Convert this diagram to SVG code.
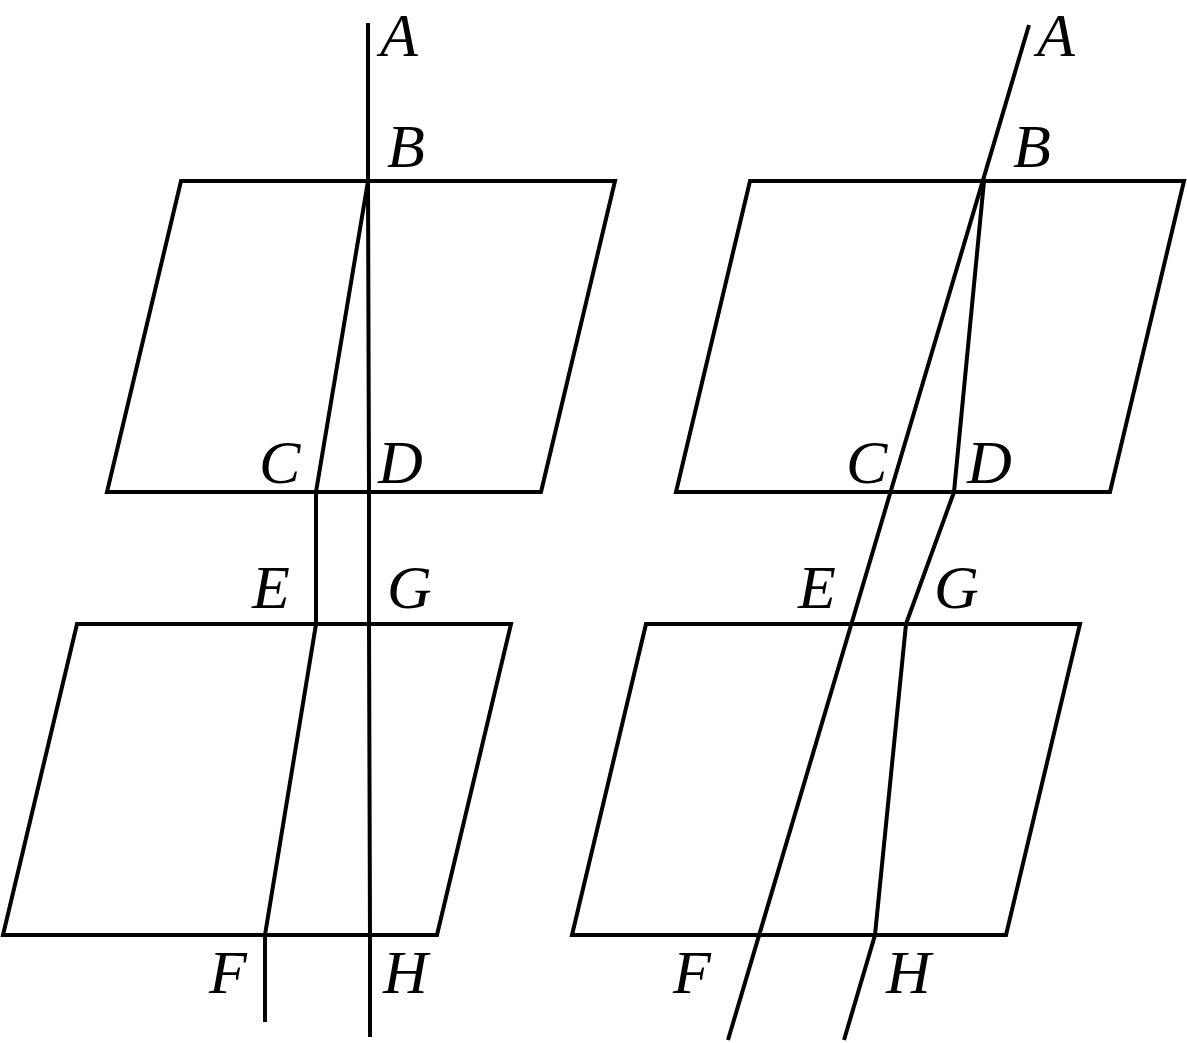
<svg xmlns="http://www.w3.org/2000/svg" width="1187" height="1043" viewBox="0 0 1187 1043">
<style>
.l{fill:none;stroke:#000;stroke-width:4;stroke-linejoin:miter}
text{font-family:"Liberation Serif",serif;font-style:italic;font-size:62px;fill:#000}
</style>
<rect width="1187" height="1043" fill="#fff"/>
<g id="planes">
<path class="l" d="M181 181H615L541 492H107Z"/>
<path class="l" d="M77 624H511L437 935H3Z"/>
<path class="l" d="M750 181H1184L1110 492H676Z"/>
<path class="l" d="M646 624H1080L1006 935H572Z"/>
</g>
<g id="connectors">
<path class="l" d="M368 23V181L369 492V624L370 935V1037"/>
<path class="l" d="M368 181L316 492V624L265 935V1022"/>
<path class="l" d="M1029 25L728 1040"/>
<path class="l" d="M984 181L954 492L906 624L875 935L844 1040"/>
</g>
<g id="labels">
<text x="380" y="56">A</text>
<text x="387" y="167">B</text>
<text x="259" y="483">C</text>
<text x="378" y="483">D</text>
<text x="252" y="608">E</text>
<text x="387" y="608">G</text>
<text x="209" y="993">F</text>
<text x="383" y="993">H</text>
<text x="1037" y="56">A</text>
<text x="1013" y="167">B</text>
<text x="846" y="483">C</text>
<text x="967" y="483">D</text>
<text x="798" y="608">E</text>
<text x="934" y="608">G</text>
<text x="673" y="993">F</text>
<text x="886" y="993">H</text>
</g>
</svg>
